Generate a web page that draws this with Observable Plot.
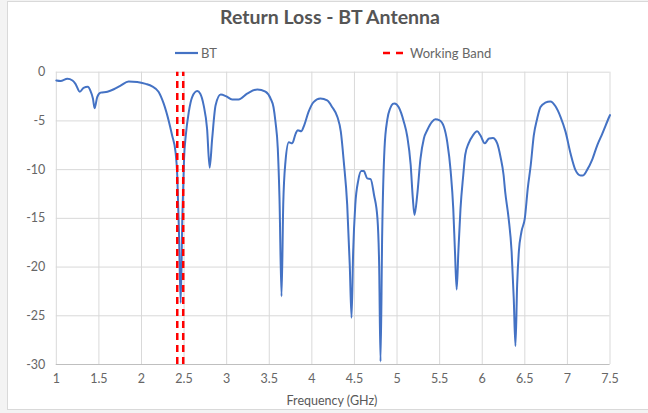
<!DOCTYPE html>
<html>
<head>
<meta charset="utf-8">
<script src="https://cdn.jsdelivr.net/npm/d3@7"></script>
<script src="https://cdn.jsdelivr.net/npm/@observablehq/plot@0.6"></script>
<style>
  html, body { margin: 0; padding: 0; background: #f3f3f3; }
  #wrap { position: relative; width: 648px; height: 413px; overflow: hidden; }
  #frame { position: absolute; left: 7px; top: 1px; width: 660px; height: 409px; background: #fff; border: 1px solid #d9d9d9; box-sizing: border-box; }
  #chart { position: absolute; left: 0; top: 0; }
  .t { position: absolute; font-family: Lato, "Open Sans", sans-serif; color: #595959; white-space: nowrap; }
  #title { left: 0; width: 660px; top: 5px; text-align: center; font-size: 19.5px; font-weight: 700; color: #555; }
  #xlabel { left: 0; width: 664px; top: 393px; text-align: center; font-size: 12.5px; }
  .leg { position: absolute; top: 45px; font-family: Lato, "Open Sans", sans-serif; font-size: 13px; color: #666; display: flex; align-items: center; }
</style>
</head>
<body>
<div id="wrap">
  <div id="frame"></div>
  <div id="chart"></div>
  <div id="title" class="t">Return Loss - BT Antenna</div>
  <div class="leg" style="left:175px"><svg width="23" height="4" style="margin-right:3px"><line x1="0" y1="2" x2="23" y2="2" stroke="#4472C4" stroke-width="2.2"/></svg>BT</div>
  <div class="leg" style="left:383px"><svg width="20" height="4" style="margin-right:7px"><line x1="0" y1="2" x2="20" y2="2" stroke="#FF0000" stroke-width="2.5" stroke-dasharray="7,6"/></svg>Working Band</div>
  <div id="xlabel" class="t">Frequency (GHz)</div>
</div>
<script>
const freq = [1.00,1.05,1.13,1.19,1.225,1.276,1.32,1.37,1.40,1.43,1.45,1.48,1.52,1.60,1.675,1.75,1.85,1.95,2.05,2.125,2.20,2.26,2.32,2.36,2.40,2.42,2.44,2.46,2.48,2.50,2.52,2.555,2.595,2.655,2.69,2.73,2.77,2.80,2.83,2.87,2.93,2.99,3.065,3.14,3.24,3.36,3.455,3.515,3.55,3.573,3.60,3.62,3.644,3.664,3.69,3.73,3.77,3.81,3.835,3.875,3.91,3.96,4.02,4.10,4.18,4.24,4.30,4.34,4.375,4.415,4.445,4.466,4.485,4.51,4.545,4.58,4.61,4.65,4.69,4.73,4.77,4.79,4.806,4.826,4.853,4.885,4.92,4.95,4.97,5.02,5.08,5.12,5.16,5.185,5.205,5.237,5.275,5.315,5.354,5.41,5.45,5.50,5.55,5.59,5.63,5.66,5.68,5.70,5.72,5.745,5.777,5.80,5.84,5.89,5.94,5.98,6.03,6.08,6.125,6.176,6.215,6.25,6.27,6.31,6.345,6.37,6.39,6.41,6.43,6.46,6.50,6.535,6.57,6.605,6.645,6.684,6.74,6.80,6.86,6.92,6.978,7.037,7.095,7.155,7.18,7.23,7.29,7.35,7.41,7.49,7.50];
const returnLoss = [-0.85,-0.9,-0.68,-0.85,-1.2,-2.0,-1.6,-1.5,-1.9,-2.7,-3.7,-2.55,-2.1,-2.0,-1.75,-1.4,-0.95,-1.0,-1.2,-1.45,-2.0,-3.2,-5.0,-6.5,-8.2,-10.6,-16.4,-23.7,-14.7,-8.8,-6.5,-4.1,-2.55,-1.94,-2.2,-3.4,-5.8,-9.8,-6.8,-3.4,-2.3,-2.45,-2.8,-2.8,-2.2,-1.77,-2.0,-2.7,-3.6,-5.1,-7.8,-12.9,-23.0,-13.6,-9.2,-7.2,-7.3,-6.3,-5.96,-6.06,-5.45,-4.1,-3.07,-2.7,-2.9,-3.6,-4.6,-6.1,-9.2,-13.6,-19.8,-25.2,-18.4,-13.6,-11.1,-10.15,-10.15,-10.9,-10.97,-12.6,-15.0,-19.8,-29.7,-16.4,-7.8,-4.9,-3.7,-3.25,-3.2,-3.6,-5.1,-6.6,-9.5,-12.9,-14.65,-12.6,-8.9,-6.8,-5.96,-5.1,-4.84,-4.94,-5.6,-7.2,-10.2,-14.0,-18.4,-22.3,-18.4,-14.0,-10.6,-8.5,-7.3,-6.5,-6.06,-6.5,-7.3,-6.8,-6.75,-7.3,-8.7,-10.5,-12.3,-15.0,-18.4,-23.2,-28.1,-21.8,-18.4,-16.4,-15.0,-11.9,-9.5,-6.5,-4.77,-3.58,-3.13,-3.0,-3.5,-4.6,-6.1,-8.35,-10.05,-10.6,-10.6,-10.05,-9.0,-7.5,-6.3,-4.6,-4.4];
const workingBand = [2.42, 2.49];
const xTicks = [1,1.5,2,2.5,3,3.5,4,4.5,5,5.5,6,6.5,7,7.5];
const yTicks = [0,-5,-10,-15,-20,-25,-30];

const data = freq.map((f, i) => ({f, v: returnLoss[i]}));

const chart = Plot.plot({
  width: 648,
  height: 413,
  marginTop: 71.7,
  marginRight: 38.5,
  marginBottom: 49,
  marginLeft: 55.8,
  style: {background: "transparent", fontFamily: "Lato, 'Open Sans', sans-serif", fontSize: "12.5px", color: "#595959"},
  x: {domain: [1, 7.5]},
  y: {domain: [-30, 0]},
  marks: [
    Plot.gridX(xTicks, {stroke: "#d9d9d9", strokeOpacity: 1}),
    Plot.gridY(yTicks, {stroke: "#d9d9d9", strokeOpacity: 1}),
    Plot.ruleY([-30], {stroke: "#bfbfbf", strokeWidth: 1}),
    Plot.axisX(xTicks, {tickSize: 0, tickPadding: 10, tickFormat: d => String(d), label: null, fill: "#666"}),
    Plot.axisY(yTicks, {tickSize: 0, tickPadding: 11, tickFormat: d => String(d), label: null, fill: "#666"}),
    Plot.line(data, {x: "f", y: "v", stroke: "#4472C4", strokeWidth: 2, curve: "monotone-x"}),
    Plot.ruleX(workingBand, {y1: -30, y2: 0, stroke: "#FF0000", strokeWidth: 2.5, strokeDasharray: "7,5"})
  ]
});
document.getElementById("chart").appendChild(chart);
</script>
</body>
</html>
